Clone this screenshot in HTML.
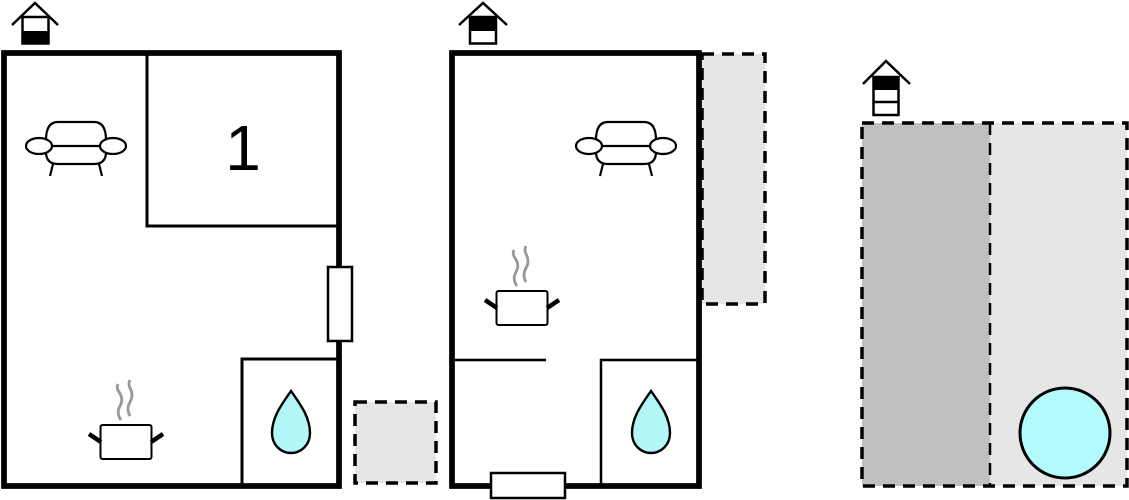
<!DOCTYPE html>
<html><head><meta charset="utf-8"><style>
html,body{margin:0;padding:0;background:#fff;width:1129px;height:500px;overflow:hidden}
svg{display:block}
</style></head><body>
<svg width="1129" height="500" viewBox="0 0 1129 500" xmlns="http://www.w3.org/2000/svg">
<defs>
<g id="sofa" fill="none" stroke="#000" stroke-width="2.2">
  <path d="M-30,-8 Q-30,-26 -18,-26 L18,-26 Q30,-26 30,-8"/>
  <path d="M-30,4 Q-30,16 -18,16 L18,16 Q30,16 30,4"/>
  <line x1="-25" y1="-2" x2="25" y2="-2"/>
  <ellipse cx="-37" cy="-2" rx="13" ry="8" fill="#fff"/>
  <ellipse cx="37" cy="-2" rx="13" ry="8" fill="#fff"/>
  <line x1="-23" y1="16" x2="-26" y2="28"/>
  <line x1="23" y1="16" x2="26" y2="28"/>
</g>
<g id="pot">
  <path d="M-5,-22 q-5,-7 -1,-14 q4,-7 -1,-14 q-3,-4 -1,-8 M4,-26 q-4,-7 0,-14 q4,-7 0,-14 q-2,-4 0,-8" fill="none" stroke="#999" stroke-width="2.8"/>
  <rect x="-25.5" y="-17" width="51" height="34" rx="2" fill="#fff" stroke="#000" stroke-width="2"/>
  <line x1="-25" y1="0" x2="-37" y2="-8" stroke="#000" stroke-width="4.5"/>
  <line x1="25" y1="0" x2="37" y2="-8" stroke="#000" stroke-width="4.5"/>
</g>
<path id="drop" d="M0,-33 C-9,-20 -19,-7 -19,9 C-19,21 -10,29 0,29 C10,29 19,21 19,9 C19,-7 9,-20 0,-33 Z" fill="#b3f6f8" stroke="#000" stroke-width="2.4"/>
</defs>

<!-- Plan 1 -->
<g fill="none" stroke="#000">
  <polyline points="12,25 35,3 58,25" stroke-width="2.5"/>
  <rect x="22.5" y="17" width="26" height="26.5" fill="#fff" stroke-width="2.5"/>
  <rect x="22" y="31" width="27" height="13" fill="#000" stroke="none"/>
</g>
<rect x="4" y="53" width="335" height="433" fill="#fff" stroke="#000" stroke-width="5.5"/>
<polyline points="147,55 147,226 339,226" fill="none" stroke="#000" stroke-width="3"/>
<rect x="242" y="359" width="97" height="127" fill="none" stroke="#000" stroke-width="3"/>
<rect x="4" y="53" width="335" height="433" fill="none" stroke="#000" stroke-width="5.5"/>
<rect x="328" y="267" width="24" height="74" fill="#fff" stroke="#000" stroke-width="2.5"/>
<text x="243" y="170" font-family="Liberation Sans, sans-serif" font-size="64" text-anchor="middle" fill="#000">1</text>
<use href="#sofa" x="76" y="148"/>
<use href="#pot" x="126" y="442"/>
<use href="#drop" x="291" y="424"/>
<rect x="355" y="402" width="81" height="81" fill="#e6e6e6" stroke="#000" stroke-width="3.5" stroke-dasharray="12,8"/>

<!-- Plan 2 -->
<g fill="none" stroke="#000">
  <polyline points="459,25 483,3 507,25" stroke-width="2.5"/>
  <rect x="470" y="17" width="26" height="26.5" fill="#fff" stroke-width="2.5"/>
  <rect x="470" y="17" width="26" height="14" fill="#000" stroke="none"/>
</g>
<rect x="702" y="54" width="63" height="250" fill="#e6e6e6" stroke="#000" stroke-width="3.5" stroke-dasharray="12,8"/>
<rect x="452" y="53" width="247" height="433" fill="#fff" stroke="#000" stroke-width="5.5"/>
<line x1="453" y1="360" x2="546" y2="360" stroke="#000" stroke-width="2.5"/>
<rect x="601" y="360" width="98" height="126" fill="none" stroke="#000" stroke-width="2.5"/>
<rect x="452" y="53" width="247" height="433" fill="none" stroke="#000" stroke-width="5.5"/>
<rect x="491" y="473" width="74" height="25" fill="#fff" stroke="#000" stroke-width="2.5"/>
<use href="#sofa" x="626" y="148"/>
<use href="#pot" x="522" y="308"/>
<use href="#drop" x="651" y="424"/>

<!-- Plan 3 -->
<rect x="862" y="123" width="128" height="363" fill="#c0c0c0"/>
<rect x="990" y="123" width="137" height="363" fill="#e6e6e6"/>
<rect x="862" y="123" width="265" height="363" fill="none" stroke="#000" stroke-width="3.5" stroke-dasharray="12,8"/>
<line x1="990" y1="123" x2="990" y2="486" stroke="#000" stroke-width="2.5" stroke-dasharray="12,8"/>
<circle cx="1065" cy="433" r="45" fill="#b3fcfd" stroke="#000" stroke-width="3"/>
<g fill="none" stroke="#000">
  <polyline points="863,84 886,61 910,84" stroke-width="2.5"/>
  <rect x="873.5" y="77" width="25" height="38" fill="#fff" stroke-width="2.5"/>
  <rect x="873" y="77" width="26" height="13" fill="#000" stroke="none"/>
  <line x1="873" y1="102" x2="899" y2="102" stroke-width="2.5"/>
</g>
</svg>
</body></html>
